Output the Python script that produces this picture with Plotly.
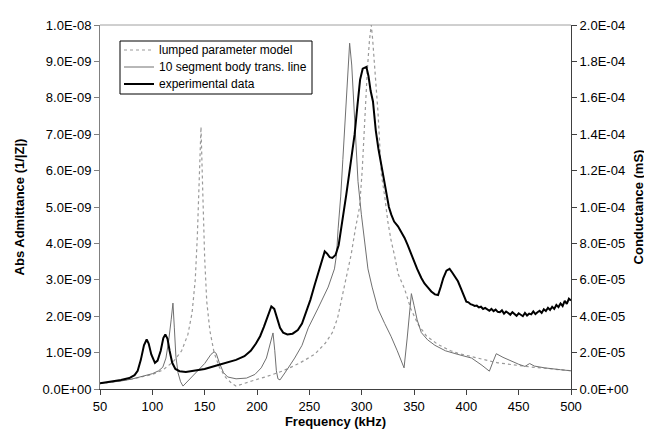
import plotly.graph_objects as go

# ---------------- data ----------------
# lumped parameter model (Abs admittance, units of 1e-9)
lump_f = [50, 60, 70, 80, 90, 100, 110, 120, 128, 134, 138, 141, 143, 145, 146.5, 148, 150, 152, 155, 159,
          164, 170, 176, 180, 185, 195, 210, 225, 240, 255, 265, 272, 277, 282, 286, 290, 294, 298, 300.5,
          302.8, 305.5, 307.5, 309.2, 310.5, 312.4, 315.6, 318.8, 322, 325, 328, 331.5, 335, 341, 347, 354,
          362, 373, 385, 392, 405, 418, 430, 445, 460, 475, 490, 500]
lump_v = [0.15, 0.18, 0.22, 0.27, 0.33, 0.4, 0.52, 0.75, 1.05, 1.5, 2.1, 3.0, 4.2, 6.0, 7.2, 5.6, 3.6, 2.4, 1.6, 1.0,
          0.6, 0.32, 0.15, 0.08, 0.12, 0.22, 0.35, 0.5, 0.7, 0.95, 1.25, 1.55, 1.95, 2.6, 3.2, 3.7, 4.4, 5.0, 6.0,
          7.4, 8.8, 9.6, 10.0, 9.6, 8.8, 7.6, 5.9, 5.3, 4.6, 4.1, 3.65, 3.15, 2.75, 2.2, 1.77,
          1.45, 1.22, 1.05, 0.98, 0.88, 0.8, 0.72, 0.66, 0.61, 0.57, 0.53, 0.5]

# 10 segment body transmission line (Abs admittance, units of 1e-9)
seg_f = [50, 60, 70, 80, 90, 100, 106, 110, 113, 115.5, 118, 119.7, 121, 122.5, 124.5, 127, 129.3, 135, 142, 150,
         156, 159, 161, 164, 168, 172, 180, 190, 198, 204, 209, 212.5, 215.3, 217, 218.5, 220, 222, 228, 236,
         243, 249, 258, 268, 274, 276, 277.5, 280, 282, 284, 286.5, 288.5, 290.5, 293.4, 296.5, 299.7, 303,
         306, 310, 315.6, 322, 328, 334, 338, 340.5, 343.5, 347.5, 350, 353, 357, 363, 370, 380, 392, 405,
         415, 422, 425.5, 428.6, 435, 443, 450, 456, 460.5, 465, 475, 490, 500]
seg_v = [0.15, 0.18, 0.22, 0.27, 0.34, 0.42, 0.5, 0.6, 0.85, 1.3, 1.9, 2.36, 1.7, 0.9, 0.45, 0.2, 0.08, 0.25, 0.45, 0.7,
         0.95, 1.02, 0.98, 0.72, 0.45, 0.33, 0.28, 0.3, 0.4, 0.58, 0.85, 1.2, 1.54, 1.05, 0.5, 0.28, 0.25, 0.5, 0.85,
         1.2, 1.68, 2.2, 2.8, 3.3, 3.7, 4.4, 5.3, 6.3, 7.4, 8.6, 9.5, 8.9, 7.5, 5.7, 4.8, 4.0,
         3.3, 2.8, 2.2, 1.8, 1.45, 1.05, 0.75, 0.58, 1.4, 2.62, 2.3, 1.9, 1.55, 1.35, 1.2, 1.05, 0.95, 0.85,
         0.65, 0.49, 0.75, 0.97, 0.87, 0.76, 0.68, 0.62, 0.7, 0.63, 0.58, 0.53, 0.5]

# experimental data (conductance, units of 1e-5 mS)
exp_f = [50, 60, 70, 78, 83, 86, 89, 92, 94.6, 96.5, 99, 102.5, 105, 108, 110.5, 112.4, 114.5, 116.5, 119, 122,
         126, 132, 140, 150, 163, 172, 180, 188, 194, 199, 203, 206.5, 210, 213.7, 216.5, 219, 222, 225, 229,
         234, 239, 243, 247, 251, 255, 258.5, 262, 264.7, 267, 269.5, 272, 275, 278, 281, 285.3, 289, 293.3,
         296, 298.5, 301, 304.5, 306.5, 308.5, 310.8, 313.5, 316, 318.8, 321, 323.5, 326, 328.3, 331, 334.7,
         338, 341, 344, 347.4, 350, 353, 357, 360, 363, 366.5, 370, 373, 375.5, 378, 381, 384, 386.5, 389,
         392, 395, 398.4, 400, 402, 404, 406, 408, 410, 412, 414, 416, 418, 420, 422, 424, 426, 428, 430,
         432, 434, 436, 438, 440, 442, 444, 446, 448, 450, 452, 454, 456, 458, 460, 462, 464, 466, 468, 470,
         472, 474, 476, 478, 480, 482, 484, 486, 488, 490, 492, 494, 496, 498, 500]
exp_v = [0.32, 0.40, 0.50, 0.60, 0.76, 1.00, 1.60, 2.40, 2.72, 2.50, 1.90, 1.44, 1.56, 2.10, 2.80, 3.00, 2.76, 2.10, 1.44, 1.10,
         0.98, 0.94, 1.00, 1.10, 1.32, 1.46, 1.60, 1.80, 2.10, 2.50, 2.90, 3.40, 4.00, 4.54, 4.40, 3.90, 3.36, 3.10, 3.00,
         3.04, 3.24, 3.60, 4.20, 4.90, 5.70, 6.40, 7.10, 7.56, 7.44, 7.24, 7.20, 7.36, 7.90, 9.00, 10.68, 12.20, 14.00,
         15.60, 17.00, 17.60, 17.70, 17.20, 16.40, 15.80, 14.20, 13.20, 12.32, 11.40, 10.68, 10.00, 9.58, 9.20, 8.94,
         8.60, 8.30, 7.90, 7.38, 7.00, 6.60, 6.10, 5.80, 5.60, 5.36, 5.20, 5.16, 5.60, 6.10, 6.50, 6.60, 6.40, 6.20,
         5.92, 5.50, 5.00, 4.80, 4.76, 4.66, 4.62, 4.56, 4.58, 4.48, 4.52, 4.40, 4.46, 4.38, 4.30, 4.40, 4.28, 4.36, 4.24,
         4.22, 4.32, 4.14, 4.26, 4.18, 4.08, 4.22, 4.10, 4.02, 4.16, 4.06, 4.00, 4.18, 4.04, 4.14, 4.10, 4.26, 4.12, 4.22, 4.30,
         4.18, 4.38, 4.28, 4.46, 4.34, 4.52, 4.40, 4.62, 4.50, 4.70, 4.56, 4.84, 4.68, 4.96, 4.86, 4.94]

series_names = ["lumped parameter model", "10 segment body trans. line", "experimental data"]

x_ticks = [50, 100, 150, 200, 250, 300, 350, 400, 450, 500]
y1_ticks = [0, 1e-9, 2e-9, 3e-9, 4e-9, 5e-9, 6e-9, 7e-9, 8e-9, 9e-9, 1e-8]
y1_labels = ["0.0E+00", "1.0E-09", "2.0E-09", "3.0E-09", "4.0E-09", "5.0E-09",
             "6.0E-09", "7.0E-09", "8.0E-09", "9.0E-09", "1.0E-08"]
y2_ticks = [0, 2e-5, 4e-5, 6e-5, 8e-5, 1e-4, 1.2e-4, 1.4e-4, 1.6e-4, 1.8e-4, 2e-4]
y2_labels = ["0.0E+00", "2.0E-05", "4.0E-05", "6.0E-05", "8.0E-05", "1.0E-04",
             "1.2E-04", "1.4E-04", "1.6E-04", "1.8E-04", "2.0E-04"]

# ---------------- figure ----------------
FONT = "Liberation Sans, Arial, sans-serif"
W, H = 652, 430
ML, MR, MT, MB = 92, 89, 17, 49

styles = [dict(color="#9a9a9a", width=1.2, dash="dot"),
          dict(color="#707070", width=1),
          dict(color="#000000", width=2)]

fig = go.Figure()
fig.add_trace(go.Scatter(x=lump_f, y=[v * 1e-9 for v in lump_v], mode="lines",
                         name=series_names[0], line=styles[0], showlegend=False))
fig.add_trace(go.Scatter(x=seg_f, y=[v * 1e-9 for v in seg_v], mode="lines",
                         name=series_names[1], line=styles[1], showlegend=False))
fig.add_trace(go.Scatter(x=exp_f, y=[v * 1e-5 for v in exp_v], mode="lines",
                         name=series_names[2], yaxis="y2", line=styles[2], showlegend=False))

axis_common = dict(showgrid=False, zeroline=False, showline=True, ticks="outside",
                   ticklen=5, tickfont=dict(family=FONT, size=13, color="#000"))

fig.update_layout(
    width=W, height=H,
    margin=dict(l=ML, r=MR, t=MT, b=MB),
    paper_bgcolor="white", plot_bgcolor="white",
    font=dict(family=FONT, size=13, color="#000"),
    showlegend=False,
    xaxis=dict(range=[50, 500], tickvals=x_ticks, linecolor="#404040", tickcolor="#404040",
               title=dict(text="<b>Frequency (kHz)</b>", font=dict(family=FONT, size=13), standoff=3),
               automargin=False, **axis_common),
    yaxis=dict(range=[0, 1e-8], tickvals=y1_ticks, ticktext=y1_labels,
               linecolor="#808080", tickcolor="#808080",
               title=dict(text="<b>Abs Admittance (1/|Z|)</b>", font=dict(family=FONT, size=13), standoff=15),
               automargin=False, **axis_common),
    yaxis2=dict(range=[0, 2e-4], tickvals=y2_ticks, ticktext=y2_labels, overlaying="y", side="right",
                linecolor="#404040", tickcolor="#404040",
                title=dict(text="<b>Conductance (mS)</b>", font=dict(family=FONT, size=13), standoff=6),
                automargin=False, **axis_common),
)

# top border of plot area
fig.add_shape(type="line", xref="paper", yref="paper", x0=0, x1=1, y0=1, y1=1,
              line=dict(color="#a0a0a0", width=1))

# hand-drawn legend box (pixel positions converted to paper coords)
pw, ph = W - ML - MR, H - MT - MB
def px(x):
    return (x - ML) / pw
def py(y):
    return (H - MB - y) / ph

fig.add_shape(type="rect", xref="paper", yref="paper",
              x0=px(112), x1=px(304), y0=py(33), y1=py(86),
              line=dict(color="#000", width=1), fillcolor="white", layer="above")
rows = [42, 59, 76]
for name, st, ry in zip(series_names, styles, rows):
    fig.add_shape(type="line", xref="paper", yref="paper",
                  x0=px(116), x1=px(146), y0=py(ry), y1=py(ry), line=st, layer="above")
    fig.add_annotation(xref="paper", yref="paper", x=px(149), y=py(ry),
                       xanchor="left", yanchor="middle", showarrow=False, text=name,
                       font=dict(family=FONT, size=12, color="#000"))

fig.write_html("out.html")
